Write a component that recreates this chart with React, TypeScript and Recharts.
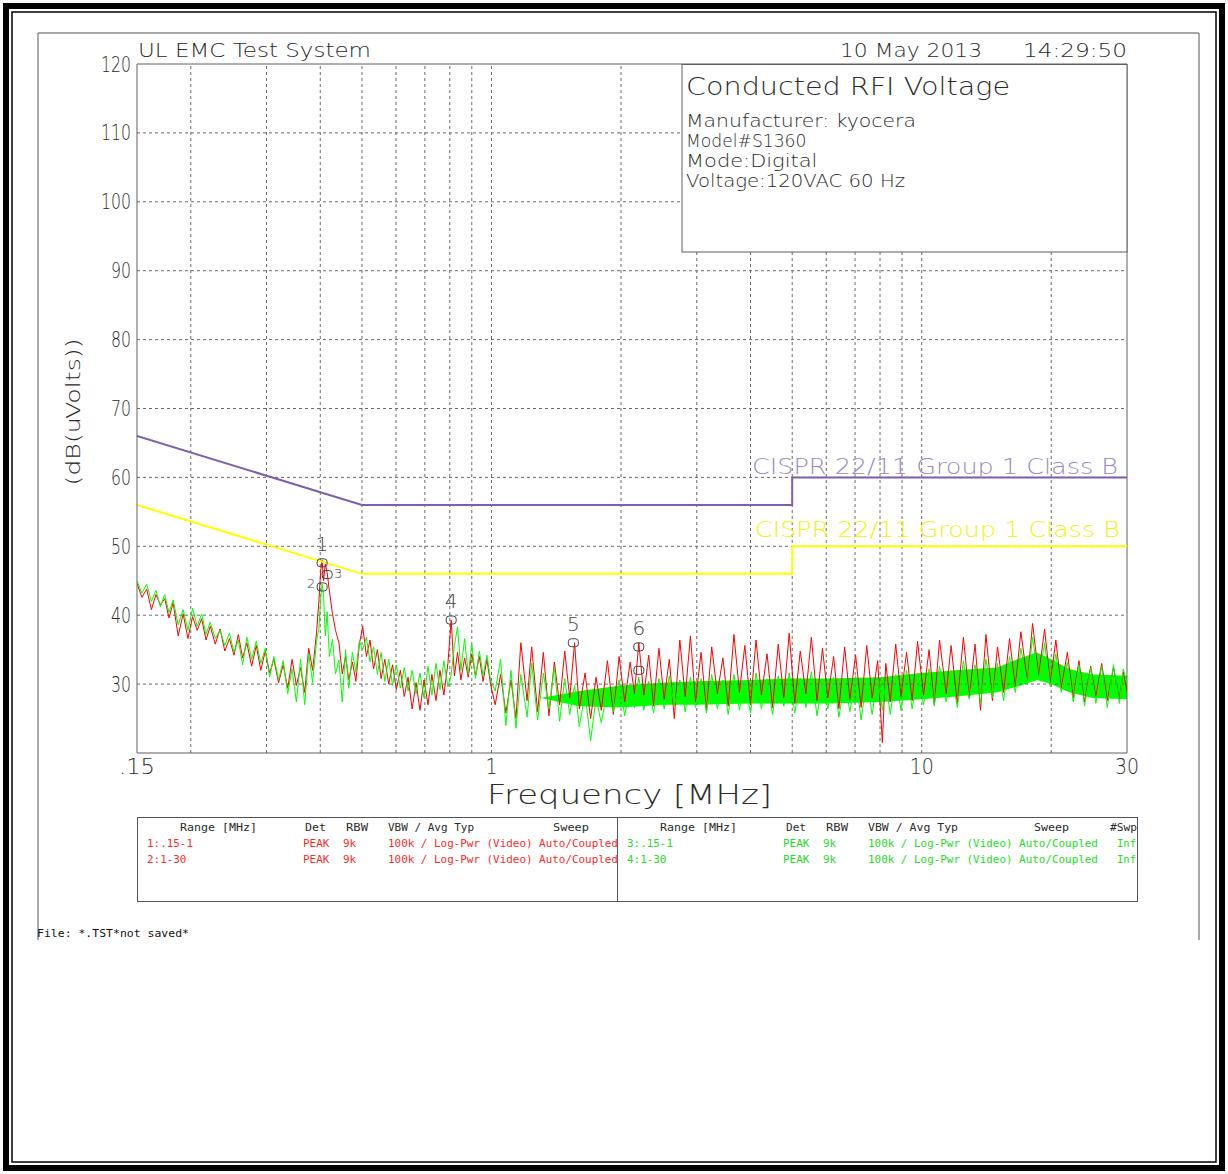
import React from 'react';
import { ComposedChart, Line, Area, XAxis, YAxis, ReferenceLine, ReferenceDot } from 'recharts';

// ---------- scan data (MHz / dBuV) ----------
const scanFreqLowMHz = [
  0.150, 0.154, 0.158, 0.162, 0.166, 0.170, 0.174, 0.178, 0.182, 0.187,
  0.192, 0.197, 0.202, 0.207, 0.212, 0.217, 0.222, 0.228, 0.234, 0.240,
  0.246, 0.252, 0.258, 0.264, 0.270, 0.277, 0.284, 0.291, 0.298, 0.305,
  0.312, 0.320, 0.328, 0.336, 0.344, 0.352, 0.360, 0.368, 0.376, 0.384,
  0.392, 0.397, 0.401, 0.404, 0.407, 0.411, 0.415, 0.420, 0.427, 0.434,
  0.442, 0.450, 0.458, 0.466, 0.475, 0.484, 0.493, 0.502, 0.512, 0.522,
  0.532, 0.543, 0.554, 0.565, 0.577, 0.589, 0.601, 0.614, 0.627, 0.640,
  0.654, 0.668, 0.682, 0.697, 0.712, 0.727, 0.743, 0.759, 0.775, 0.792,
  0.806, 0.820, 0.834, 0.849, 0.866, 0.883, 0.900, 0.918, 0.937, 0.956,
  0.976, 0.995,
];
const redLowDb = [
  44.6, 42.6, 43.8, 40.8, 43.0, 41.5, 42.4, 39.6, 41.8, 37.0,
  40.2, 36.6, 39.8, 37.8, 39.5, 36.4, 38.4, 35.8, 38.0, 34.8,
  36.6, 34.2, 37.2, 33.8, 36.0, 32.6, 35.6, 32.0, 34.8, 31.6,
  33.6, 30.2, 32.8, 29.4, 33.6, 29.8, 32.4, 28.8, 35.2, 32.0,
  37.4, 42.0, 46.5, 48.0, 45.0, 47.4, 46.2, 43.5, 40.2, 37.8,
  36.0, 31.5, 34.0, 30.6, 33.2, 30.4, 35.8, 38.4, 34.0, 36.4,
  32.2, 35.0, 30.8, 33.6, 30.0, 32.8, 29.2, 32.0, 28.2, 31.0,
  26.4, 30.2, 26.2, 30.6, 27.0, 31.4, 27.6, 32.0, 28.4, 33.0,
  39.3, 31.2, 34.6, 30.6, 33.8, 31.0, 34.4, 31.2, 34.0, 30.4,
  33.6, 30.0,
];
const greenLowDb = [
  45.0, 43.2, 44.5, 42.0, 43.6, 41.2, 43.0, 40.4, 42.2, 38.6,
  40.8, 37.8, 41.0, 38.4, 40.2, 37.2, 39.0, 36.6, 37.8, 35.6,
  37.4, 34.6, 36.4, 32.8, 36.8, 33.6, 36.2, 33.0, 35.2, 31.0,
  34.0, 30.6, 33.4, 28.6, 32.2, 27.4, 33.6, 27.0, 34.4, 30.2,
  36.2, 38.0, 42.5, 44.5, 43.0, 37.0, 40.5, 34.0, 36.5, 31.5,
  33.5, 27.4, 35.0, 29.4, 34.6, 31.8, 36.2, 35.0, 36.8, 33.2,
  35.4, 31.4, 34.6, 30.4, 33.6, 29.8, 32.8, 29.4, 32.4, 29.0,
  32.0, 28.6, 31.6, 28.0, 32.6, 28.4, 33.0, 29.2, 33.4, 29.6,
  31.4, 35.6, 38.3, 32.0, 36.6, 31.4, 35.8, 30.8, 34.8, 31.2,
  34.2, 30.6,
];
const scanFreqHighMHz = [
  1.02, 1.05, 1.08, 1.11, 1.14, 1.17, 1.21, 1.24, 1.28, 1.32,
  1.36, 1.40, 1.44, 1.48, 1.52, 1.56, 1.60, 1.65, 1.70, 1.75,
  1.80, 1.86, 1.92, 1.98, 2.04, 2.10, 2.15, 2.20, 2.26, 2.32,
  2.38, 2.45, 2.52, 2.59, 2.66, 2.74, 2.82, 2.90, 2.98, 3.07,
  3.16, 3.25, 3.35, 3.45, 3.55, 3.66, 3.77, 3.88, 4.00, 4.12,
  4.24, 4.37, 4.50, 4.64, 4.78, 4.92, 5.07, 5.22, 5.38, 5.54,
  5.71, 5.88, 6.05, 6.24, 6.42, 6.62, 6.81, 7.02, 7.23, 7.45,
  7.67, 7.90, 8.10, 8.25, 8.45, 8.70, 8.95, 9.22, 9.50, 9.78,
  10.1, 10.4, 10.7, 11.0, 11.4, 11.7, 12.1, 12.5, 12.9, 13.3,
  13.7, 14.1, 14.6, 15.0, 15.5, 16.0, 16.5, 17.0, 17.6, 18.1,
  18.7, 19.3, 19.9, 20.5, 21.1, 21.8, 22.5, 23.2, 23.9, 24.7,
  25.4, 26.2, 27.0, 27.9, 28.8, 29.4, 30.0,
];
const redHighDb = [
  27.0, 31.4, 25.8, 30.6, 25.0, 36.0, 27.6, 35.4, 26.0, 34.6,
  25.4, 33.2, 27.0, 34.8, 28.0, 36.0, 26.4, 31.6, 25.0, 31.0,
  26.2, 33.4, 25.6, 34.0, 27.4, 33.2, 28.6, 36.0, 28.4, 34.2,
  26.8, 35.2, 27.8, 33.6, 25.0, 36.4, 28.2, 37.0, 27.4, 34.6,
  26.2, 35.4, 28.6, 33.8, 26.8, 37.2, 28.8, 35.6, 27.0, 36.4,
  28.4, 34.4, 26.6, 35.8, 28.0, 37.4, 27.2, 34.8, 28.6, 36.8,
  27.6, 35.2, 28.0, 34.0, 26.4, 35.4, 27.8, 34.2, 26.6, 35.6,
  28.0, 33.4, 21.5, 33.0, 27.4, 35.8, 28.2, 34.6, 27.6, 36.2,
  28.4, 35.0, 27.0, 36.4, 28.6, 35.6, 27.2, 36.8, 28.0, 35.8,
  26.2, 37.2, 27.6, 35.4, 28.8, 36.6, 29.6, 37.6, 30.4, 38.8,
  31.2, 38.0, 30.2, 36.4, 29.4, 34.6, 28.0, 33.4, 27.4, 32.6,
  28.2, 33.0, 27.6, 32.4, 27.8, 31.8, 29.0,
];
const greenHighDb = [
  29.0, 33.6, 24.0, 32.0, 23.6, 31.4, 25.2, 33.0, 24.8, 31.6,
  26.4, 32.4, 24.6, 30.8, 25.6, 29.8, 23.8, 28.6, 21.8, 28.0,
  24.4, 29.2, 26.0, 30.6, 25.4, 29.8, 26.6, 31.0, 26.2, 30.4,
  25.8, 30.8, 26.4, 31.2, 26.8, 30.6, 26.0, 31.0, 26.6, 30.8,
  25.8, 31.4, 26.4, 30.6, 25.6, 31.4, 26.2, 30.4, 25.8, 31.6,
  26.4, 30.8, 25.6, 31.2, 26.8, 31.6, 25.8, 30.8, 26.6, 31.8,
  25.4, 30.6, 26.4, 31.0, 25.2, 30.4, 26.0, 31.2, 24.8, 30.6,
  25.6, 31.0, 26.2, 30.4, 25.6, 31.4, 26.2, 32.0, 26.4, 31.6,
  27.0, 32.2, 26.8, 32.6, 27.4, 32.0, 26.6, 33.4, 27.8, 32.8,
  27.2, 33.6, 28.0, 33.0, 27.6, 34.0, 28.8, 35.2, 30.0, 36.8,
  30.6, 36.0, 29.6, 34.4, 28.8, 33.2, 27.4, 32.8, 26.8, 32.4,
  27.2, 32.6, 26.6, 32.8, 27.2, 32.2, 30.2,
];

// dense core of the green noise band (read as an envelope)
const coreFreqMHz = [1.3, 1.6, 2.0, 2.5, 3.0, 4.0, 5.0, 6.0, 8.0, 10.0, 12.0, 15.0, 17.0, 18.5, 20.0, 22.0, 25.0, 30.0];
const greenCoreLoDb = [28.0, 26.8, 26.6, 27.0, 27.0, 27.2, 27.2, 27.2, 27.4, 27.8, 28.2, 28.8, 29.8, 30.6, 30.0, 28.8, 28.0, 27.8];
const greenCoreHiDb = [28.0, 29.0, 29.8, 30.2, 30.4, 30.6, 30.8, 30.8, 31.0, 31.6, 32.0, 32.4, 33.8, 34.6, 33.6, 32.2, 31.4, 31.2];

// ---------- limit lines ----------
const limitFreqMHz = [0.15, 0.5, 5, 5, 30];
const qpLimitDb = [66, 56, 56, 60, 60];
const avLimitDb = [56, 46, 46, 50, 50];
const limitName = 'CISPR 22/11 Group 1 Class B';

// ---------- markers ----------
const markerFreqMHz = [0.404, 0.404, 0.415, 0.806, 1.55, 2.2, 2.2];
const markerDb = [47.6, 44.1, 45.9, 39.3, 36.0, 35.4, 32.0];
const markerLabel = ['1', '2', '3', '4', '5', '6', ''];

// ---------- axes ----------
const xTickValues = [0.15, 1, 10, 30];
const xTickLabels = ['.15', '1', '10', '30'];
const yTickValues = [30, 40, 50, 60, 70, 80, 90, 100, 110, 120];
const gridFreqMHz = [0.2, 0.3, 0.4, 0.5, 0.6, 0.7, 0.8, 0.9, 1, 2, 3, 4, 5, 6, 7, 8, 9, 10, 20];
const gridDb = [30, 40, 50, 60, 70, 80, 90, 100, 110];

// ---------- texts ----------
const headerLeft = 'UL EMC Test System';
const headerDate = '10 May 2013';
const headerTime = '14:29:50';
const infoTitle = 'Conducted RFI Voltage';
const infoLines = ['Manufacturer: kyocera', 'Model#S1360', 'Mode:Digital', 'Voltage:120VAC 60 Hz'];
const tableHeaders = ['Range [MHz]', 'Det', 'RBW', 'VBW / Avg Typ', 'Sweep'];
const redRows = [
  ['1:.15-1', 'PEAK', '9k', '100k / Log-Pwr (Video) Auto/Coupled'],
  ['2:1-30', 'PEAK', '9k', '100k / Log-Pwr (Video) Auto/Coupled'],
];
const greenRows = [
  ['3:.15-1', 'PEAK', '9k', '100k / Log-Pwr (Video) Auto/Coupled', 'Inf'],
  ['4:1-30', 'PEAK', '9k', '100k / Log-Pwr (Video) Auto/Coupled', 'Inf'],
];
const fileNote = 'File: *.TST*not saved*';

// ---------- build series ----------
const lowTable = scanFreqLowMHz.map((f, i) => ({ f, r: redLowDb[i], g: greenLowDb[i] }));
const highTable = scanFreqHighMHz.map((f, i) => ({ f, r: redHighDb[i], g: greenHighDb[i] }));
const scanTable = [...lowTable, ...highTable];
const redSeries = scanTable.map((d) => ({ f: d.f, v: d.r }));
const greenSeries = scanTable.map((d) => ({ f: d.f, v: d.g }));
const greenCore = coreFreqMHz.map((f, i) => ({ f, band: [greenCoreLoDb[i], greenCoreHiDb[i]] }));
const qpSeries = limitFreqMHz.map((f, i) => ({ f, v: qpLimitDb[i] }));
const avSeries = limitFreqMHz.map((f, i) => ({ f, v: avLimitDb[i] }));

const FONT = "'DejaVu Sans Mono', 'Liberation Mono', monospace";
const THIN = "'DejaVu Sans ExtraLight', 'DejaVu Sans', sans-serif";
const INK = '#2b2b2b';
const RED = '#ff0000';
const GREEN = '#00ff00';
const PURPLE = '#7e5fae';
const YELLOW = '#ffff00';

type TProps = {
  x: number; y: number; w: number; size: number; fill?: string; family?: string;
  weight?: number; anchor?: 'start' | 'middle' | 'end'; children: React.ReactNode; transform?: string;
};
const T = ({ x, y, w, size, fill = INK, family = THIN, weight = 200, anchor = 'start', children, transform }: TProps) => (
  <text x={x} y={y} fontSize={size} fill={fill} fontFamily={family} fontWeight={weight}
    textAnchor={anchor} dominantBaseline="central" textLength={w} lengthAdjust="spacingAndGlyphs" transform={transform}>
    {children}
  </text>
);

const YTick = (props: any) => {
  const { x, y, payload } = props;
  const s = String(payload.value);
  return (
    <text x={x} y={y} fontSize={22} fill={INK} fontFamily={THIN} fontWeight={200} textAnchor="end"
      dominantBaseline="central" textLength={s.length * 10} lengthAdjust="spacingAndGlyphs">{s}</text>
  );
};
const XTick = (props: any) => {
  const { x, y, payload } = props;
  const idx = xTickValues.indexOf(payload.value);
  const s = idx >= 0 ? xTickLabels[idx] : String(payload.value);
  return (
    <text x={x} y={y + 5} fontSize={22} fill={INK} fontFamily={THIN} fontWeight={200} textAnchor="middle"
      dominantBaseline="central" textLength={s.length * 12} lengthAdjust="spacingAndGlyphs">{s}</text>
  );
};

// where each marker's number sits relative to its box (layout only)
const markerLabelPlacement = [
  { dx: 0, dy: -19, size: 20 },
  { dx: -11, dy: -3, size: 13 },
  { dx: 11, dy: -1, size: 13 },
  { dx: 0, dy: -19, size: 20 },
  { dx: 0, dy: -19, size: 20 },
  { dx: 0, dy: -19, size: 20 },
  { dx: 0, dy: -19, size: 20 },
];

const markerShape = (label: string, place: { dx: number; dy: number; size: number }) => (props: any) => {
  const { cx, cy } = props;
  return (
    <g>
      <rect x={cx - 5} y={cy - 4} width={10} height={8} rx={3} fill="none" stroke="#444" strokeWidth={1} />
      {label ? (
        <text x={cx + place.dx} y={cy + place.dy} fontSize={place.size} fill="#444" fontFamily={THIN} fontWeight={200}
          textAnchor="middle" dominantBaseline="central">{label}</text>
      ) : null}
    </g>
  );
};

export default function App() {
  const W = 1228;
  const H = 1174;
  const leftCols = [180, 305, 346, 388, 553];
  const leftW = [77, 21, 22, 86, 36];
  const rightCols = [660, 786, 826, 868, 1034, 1110];
  const rightW = [77, 20, 22, 90, 35, 27];
  const rowCols = [147, 303, 343, 388];
  const rowW = (s: string) => s.length * 6.57;
  return (
    <div style={{ position: 'absolute', left: 0, top: 0, width: W, height: H, overflow: 'hidden', background: '#fff' }}>
      <div style={{ position: 'absolute', left: 0, top: 0 }}>
        <ComposedChart width={W} height={H} margin={{ top: 64, right: 101, bottom: 391, left: 77 }}>
          <XAxis dataKey="f" type="number" scale="log" domain={[0.15, 30]} allowDataOverflow
            ticks={xTickValues} interval={0} tick={<XTick />} tickLine={false}
            axisLine={{ stroke: '#606060' }} height={30} />
          <YAxis type="number" domain={[20, 120]} allowDataOverflow ticks={yTickValues} interval={0}
            tick={<YTick />} tickLine={false} tickMargin={0} axisLine={{ stroke: '#606060' }} width={60} />
          {gridFreqMHz.map((f) => (
            <ReferenceLine key={'gx' + f} x={f} stroke="#6a6a6a" strokeDasharray="3 3" strokeWidth={1} />
          ))}
          {gridDb.map((d) => (
            <ReferenceLine key={'gy' + d} y={d} stroke="#6a6a6a" strokeDasharray="3 3" strokeWidth={1} />
          ))}
          <ReferenceLine y={120} stroke="#606060" strokeWidth={1} />
          <ReferenceLine x={30} stroke="#606060" strokeWidth={1} />
          <Line data={redSeries} dataKey="v" type="linear" stroke={RED} strokeWidth={1} dot={false}
            isAnimationActive={false} />
          <Area data={greenCore} dataKey="band" type="linear" stroke="none" fill={GREEN} fillOpacity={1}
            isAnimationActive={false} />
          <Line data={greenSeries} dataKey="v" type="linear" stroke={GREEN} strokeWidth={1} dot={false}
            isAnimationActive={false} />
          <Line data={qpSeries} dataKey="v" type="linear" stroke={PURPLE} strokeWidth={2} dot={false}
            isAnimationActive={false} />
          <Line data={avSeries} dataKey="v" type="linear" stroke={YELLOW} strokeWidth={2} dot={false}
            isAnimationActive={false} />
          {markerFreqMHz.map((f, i) => (
            <ReferenceDot key={'m' + i} x={f} y={markerDb[i]} r={5}
              shape={markerShape(markerLabel[i], markerLabelPlacement[i])} />
          ))}
        </ComposedChart>
      </div>
      <svg width={W} height={H} style={{ position: 'absolute', left: 0, top: 0, pointerEvents: 'none' }}>
        {/* page frame */}
        <rect x={6} y={6} width={W - 12} height={H - 12} fill="none" stroke="#000" strokeWidth={6} />
        <rect x={12} y={12} width={W - 24} height={H - 24} fill="none" stroke="#000" strokeWidth={1.5} />
        <line x1={38} y1={33} x2={1199} y2={33} stroke="#555" strokeWidth={1} />
        <line x1={38} y1={33} x2={38} y2={940} stroke="#555" strokeWidth={1} />
        <line x1={1199} y1={33} x2={1199} y2={940} stroke="#555" strokeWidth={1} />

        {/* header */}
        <T x={138} y={50} w={233} size={20}>{headerLeft}</T>
        <T x={840} y={50} w={142} size={20}>{headerDate}</T>
        <T x={1023} y={50} w={104} size={20}>{headerTime}</T>

        {/* info box */}
        <rect x={682} y={64.5} width={445} height={187.5} fill="#fff" stroke="#606060" strokeWidth={1} />
        <T x={686} y={86} w={324} size={25}>{infoTitle}</T>
        {infoLines.map((s, i) => (
          <T key={s} x={686} y={120 + i * 20} w={s.length * 10.95} size={18}>{s}</T>
        ))}

        {/* limit labels */}
        <T x={752} y={466} w={366} size={22} fill="#9a88c6">{limitName}</T>
        <T x={755} y={529} w={365} size={22} fill="#f2f20a">{limitName}</T>

        {/* axis titles */}
        <T x={487} y={795} w={285} size={26}>Frequency [MHz]</T>
        <T x={73} y={412} w={147} size={20} anchor="middle" transform="rotate(-90 73 412)">(dB(uVolts))</T>

        {/* table */}
        <rect x={137.5} y={817.5} width={1000} height={84} fill="none" stroke="#555" strokeWidth={1} />
        <line x1={617.5} y1={817} x2={617.5} y2={902} stroke="#555" strokeWidth={1} />
        {tableHeaders.map((s, i) => (
          <T key={'lh' + i} x={leftCols[i]} y={827} w={leftW[i]} size={11} family={FONT} weight={400}>{s}</T>
        ))}
        {[...tableHeaders, '#Swp'].map((s, i) => (
          <T key={'rh' + i} x={rightCols[i]} y={827} w={rightW[i]} size={11} family={FONT} weight={400}>{s}</T>
        ))}
        {redRows.map((row, r) =>
          row.map((s, c) => (
            <T key={'rr' + r + c} x={rowCols[c]} y={843 + r * 16} w={rowW(s)} size={11} family={FONT}
              weight={400} fill="#ff2a2a">{s}</T>
          ))
        )}
        {greenRows.map((row, r) =>
          row.map((s, c) => (
            <T key={'gr' + r + c} x={c < 4 ? rowCols[c] + 480 : 1117} y={843 + r * 16} w={c < 4 ? rowW(s) : 19}
              size={11} family={FONT} weight={400} fill="#22dd22">{s}</T>
          ))
        )}
        <T x={37} y={933} w={152} size={11} family={FONT} weight={400} fill="#111">{fileNote}</T>
      </svg>
    </div>
  );
}
